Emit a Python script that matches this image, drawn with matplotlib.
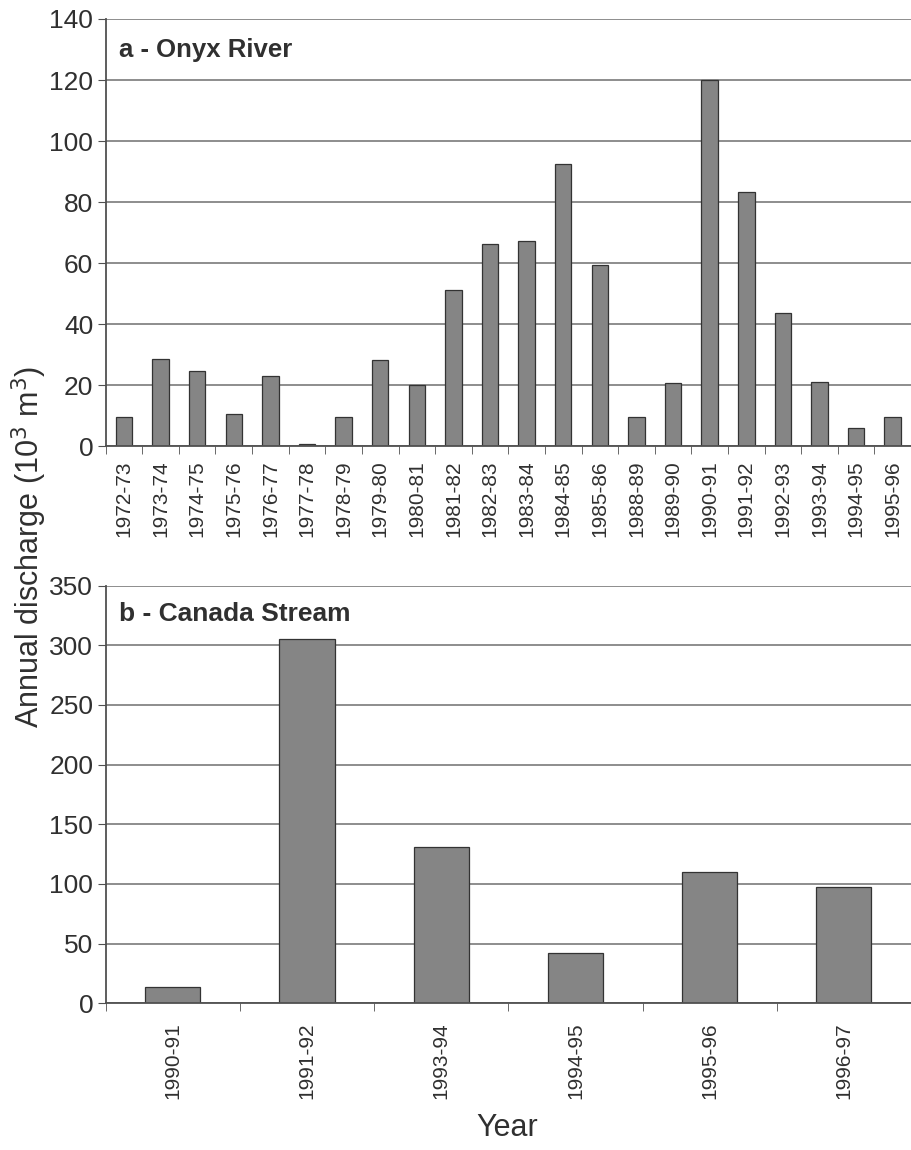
import numpy as np
import matplotlib
matplotlib.use("Agg")
import matplotlib.pyplot as plt

plt.rcParams['font.family'] = ['Liberation Sans', 'DejaVu Sans']

# a - Onyx River, annual discharge (10^3 m^3)
onyx_years = ['1972-73', '1973-74', '1974-75', '1975-76', '1976-77', '1977-78',
              '1978-79', '1979-80', '1980-81', '1981-82', '1982-83', '1983-84',
              '1984-85', '1985-86', '1988-89', '1989-90', '1990-91', '1991-92',
              '1992-93', '1993-94', '1994-95', '1995-96']
onyx_q = [9.5, 28.5, 24.8, 10.6, 23.0, 0.8, 9.7, 28.2, 19.9, 51.1, 66.2, 67.2,
          92.6, 59.3, 9.7, 20.8, 120.0, 83.4, 43.7, 21.2, 5.9, 9.7]

# b - Canada Stream
canada_years = ['1990-91', '1991-92', '1993-94', '1994-95', '1995-96', '1996-97']
canada_q = [13.4, 305.5, 131.3, 41.9, 110.3, 97.2]

BAR_COLOR = '#858585'
EDGE = '#333333'
GRID = '#858585'
TXT = '#303030'

fig = plt.figure(figsize=(9.11, 11.5), dpi=100)
ax1 = fig.add_axes([0.116, 0.612, 0.884, 0.3715])
ax2 = fig.add_axes([0.116, 0.1276, 0.884, 0.3631])


def style(ax, n, ymax, ystep):
    ax.set_xlim(-0.5, n - 0.5)
    ax.set_ylim(0, ymax)
    ax.set_yticks(np.arange(0, ymax + 1, ystep))
    ax.yaxis.grid(True, color=GRID, linewidth=1.3)
    ax.set_axisbelow(True)
    for s in ['top', 'right']:
        ax.spines[s].set_visible(False)
    for s in ['left', 'bottom']:
        ax.spines[s].set_color('#505050')
        ax.spines[s].set_linewidth(1.3)
    ax.tick_params(axis='y', labelsize=19, length=6, color='#505050',
                   labelcolor=TXT, pad=3)
    ax.set_xticks(np.arange(n))
    ax.set_xticks(np.arange(n + 1) - 0.5, minor=True)
    ax.tick_params(axis='x', which='major', length=0, labelrotation=90,
                   labelcolor=TXT, labelsize=15, pad=11)
    ax.tick_params(axis='x', which='minor', length=6, color='#505050')


n1 = len(onyx_years)
ax1.bar(np.arange(n1), onyx_q, width=0.45, color=BAR_COLOR, edgecolor=EDGE,
        linewidth=0.9)
style(ax1, n1, 140, 20)
ax1.set_xticklabels(onyx_years)
ax1.tick_params(axis='x', which='major', pad=10)
ax1.text(0.017, 0.955, 'a - Onyx River', transform=ax1.transAxes,
         fontsize=18.5, fontweight='bold', color=TXT, va='top')

n2 = len(canada_years)
ax2.bar(np.arange(n2), canada_q, width=0.41, color=BAR_COLOR, edgecolor=EDGE,
        linewidth=0.9)
style(ax2, n2, 350, 50)
ax2.set_xticklabels(canada_years)
ax2.tick_params(axis='x', which='major', pad=14)
ax2.text(0.017, 0.96, 'b - Canada Stream', transform=ax2.transAxes,
         fontsize=19, fontweight='bold', color=TXT, va='top')

fig.text(0.032, 0.524, 'Annual discharge (10$^3$ m$^3$)', rotation=90,
         fontsize=22, color=TXT, ha='center', va='center')
fig.text(0.557, 0.012, 'Year', fontsize=22, color=TXT,
         ha='center', va='baseline')

fig.savefig('out.png', dpi=100)
